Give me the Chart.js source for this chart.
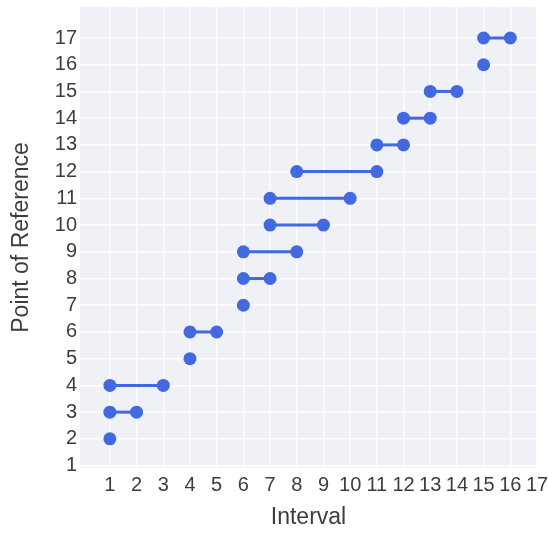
<!DOCTYPE html>
<html>
<head>
<meta charset="utf-8">
<script src="https://cdn.jsdelivr.net/npm/chart.js@4"></script>
<style>
  html, body { margin: 0; padding: 0; background: #fff; }
  #wrap { width: 548px; height: 533px; }
</style>
</head>
<body>
<div id="wrap"><canvas id="chart" width="548" height="533"></canvas></div>
<script>
// reference points (rows) and the interval each one covers
const refPoints = [2, 3, 4, 5, 6, 7, 8, 9, 10, 11, 12, 13, 14, 15, 16, 17];
const startVals = [1, 1, 1, 4, 4, 6, 6, 6, 7, 7, 8, 11, 12, 13, 15, 15];
const endVals   = [1, 2, 3, 4, 5, 6, 7, 8, 9, 10, 11, 12, 13, 14, 15, 16];
const xTicks = [1, 2, 3, 4, 5, 6, 7, 8, 9, 10, 11, 12, 13, 14, 15, 16, 17];
const yTicks = [1, 2, 3, 4, 5, 6, 7, 8, 9, 10, 11, 12, 13, 14, 15, 16, 17];

const blue = "#4169E1";
const font = "'Liberation Sans', Arial, sans-serif";

const datasets = refPoints.map((y, i) => {
  const pts = [{ x: startVals[i], y: y }];
  if (endVals[i] !== startVals[i]) pts.push({ x: endVals[i], y: y });
  return {
    data: pts,
    borderColor: blue,
    backgroundColor: blue,
    borderWidth: 3,
    pointRadius: 6.5,
    pointBorderWidth: 0,
    showLine: true
  };
});

const plotBg = {
  id: "plotBg",
  beforeDraw(chart) {
    const { ctx, chartArea: a } = chart;
    ctx.save();
    ctx.fillStyle = "#EFF1F7";
    ctx.fillRect(a.left, a.top, a.right - a.left, a.bottom - a.top);
    ctx.restore();
  }
};

new Chart(document.getElementById("chart"), {
  type: "scatter",
  data: { datasets },
  plugins: [plotBg],
  options: {
    responsive: false,
    animation: false,
    layout: { padding: { top: 7, right: 11, left: 0, bottom: 0 } },
    plugins: { legend: { display: false }, tooltip: { enabled: false } },
    scales: {
      x: {
        type: "linear",
        min: -0.12,
        max: 17,
        afterBuildTicks: s => { s.ticks = xTicks.map(v => ({ value: v })); },
        afterFit: s => { s.height = 65; s.paddingLeft = 0; s.paddingRight = 0; },
        grid: { color: "#ffffff", lineWidth: 1.5, drawTicks: false },
        border: { display: false },
        ticks: { color: "#3d3d3d", font: { family: font, size: 20 }, padding: 5, maxRotation: 0, autoSkip: false },
        title: { display: true, text: "Interval", color: "#3d3d3d", font: { family: font, size: 23 }, padding: { top: 0, bottom: 2 } }
      },
      y: {
        type: "linear",
        min: 0.91,
        max: 18.16,
        afterBuildTicks: s => { s.ticks = yTicks.map(v => ({ value: v })); },
        afterFit: s => { s.width = 80; s.paddingTop = 0; s.paddingBottom = 0; },
        grid: { color: "#ffffff", lineWidth: 1.5, drawTicks: false },
        border: { display: false },
        ticks: { color: "#3d3d3d", font: { family: font, size: 20 }, padding: 3, autoSkip: false },
        title: { display: true, text: "Point of Reference", color: "#3d3d3d", font: { family: font, size: 23 }, padding: { top: 8, bottom: 0 } }
      }
    }
  }
});
</script>
</body>
</html>
